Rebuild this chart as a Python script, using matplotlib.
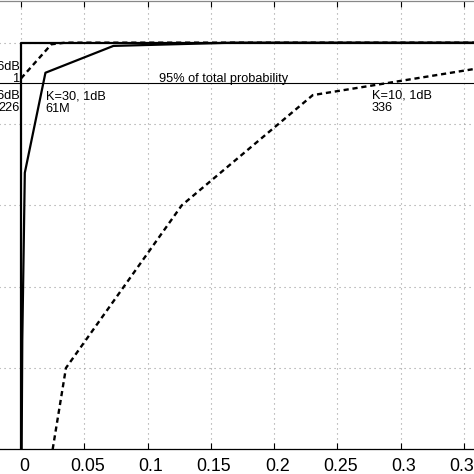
"""CDF of the relative error, cropped view."""
import matplotlib
matplotlib.use('Agg')
import matplotlib.pyplot as plt
from matplotlib.transforms import ScaledTranslation

plt.rcParams['font.family'] = ['Liberation Sans', 'DejaVu Sans']

# K=10, 1dB (dashed)
k10_1db_x = [0.025, 0.0355, 0.127, 0.2305, 0.3576, 0.40]
k10_1db_y = [0.5, 0.6, 0.8, 0.9355, 0.9675, 0.978]

# K=30, 1dB (solid)
k30_1db_x = [0.0005, 0.001, 0.003, 0.0193, 0.073, 0.168, 0.40]
k30_1db_y = [0.5, 0.634, 0.84, 0.963, 0.996, 1.0, 1.0]

# K=10, 6dB (dashed)
k10_6db_x = [0.0, 0.024, 0.035, 0.40]
k10_6db_y = [0.956, 0.998, 1.0, 1.0]

# K=30, 6dB (solid)
k30_6db_x = [0.0, 0.0, 0.40]
k30_6db_y = [0.5, 1.0, 1.0]

x_ticks = [-0.05, 0, 0.05, 0.1, 0.15, 0.2, 0.25, 0.3, 0.35]
x_labels = ['-0.05', '0', '0.05', '0.1', '0.15', '0.2', '0.25', '0.3', '0.35']
y_ticks = [0.5, 0.6, 0.7, 0.8, 0.9, 1.0]

fig = plt.figure(figsize=(4.74, 4.74), dpi=100)
# axes run past the left/right edges of the picture (cropped figure)
ax = fig.add_axes([-0.2227, 0.0521, 1.3352, 0.9468])

ax.plot(k30_6db_x, k30_6db_y, color='k', lw=1.6)
ax.plot(k30_1db_x, k30_1db_y, color='k', lw=1.6)
ax.plot(k10_6db_x, k10_6db_y, color='k', lw=1.7, linestyle=(0, (2.2, 1.6)))
ax.plot(k10_1db_x, k10_1db_y, color='k', lw=1.7, linestyle=(0, (2.2, 1.6)))

ax.axhline(0.95, color='k', lw=0.8)

ax.set_xlim(-0.1, 0.4)
ax.set_ylim(0.5, 1.0518)
ax.set_xticks(x_ticks)
ax.set_xticklabels(x_labels)
ax.set_yticks(y_ticks)
ax.tick_params(direction='in', top=True, right=True, length=4, width=0.8,
               labelsize=12.8, pad=6)
ax.grid(True, linestyle=(0, (1, 3.5)), color='#9a9a9a', lw=0.8)
for s in ['top', 'bottom']:
    ax.spines[s].set_linewidth(0.9)
ax.spines['top'].set_color('#888888')

# tick labels sit a little right of their ticks in the original
shift = ScaledTranslation(3 / 100, 0, fig.dpi_scale_trans)
for lbl in ax.get_xticklabels():
    lbl.set_transform(lbl.get_transform() + shift)

# multi-line labels: y is the baseline of the last line
ax.text(0.109, 0.9522, '95% of total probability', fontsize=9.2,
        ha='left', va='baseline')
ax.text(-0.0008, 0.9516, 'K=10, 6dB\n1', fontsize=9.2, ha='right',
        va='baseline', linespacing=1.05, multialignment='right')
ax.text(-0.0008, 0.9159, 'K=30, 6dB\n226', fontsize=9.2, ha='right',
        va='baseline', linespacing=1.05, multialignment='right')
ax.text(0.0195, 0.9147, 'K=30, 1dB\n61M', fontsize=9.2, ha='left',
        va='baseline', linespacing=1.05)
ax.text(0.2773, 0.9165, 'K=10, 1dB\n336', fontsize=9.2, ha='left',
        va='baseline', linespacing=1.05)

plt.savefig('out.png', dpi=100)
plt.close()
